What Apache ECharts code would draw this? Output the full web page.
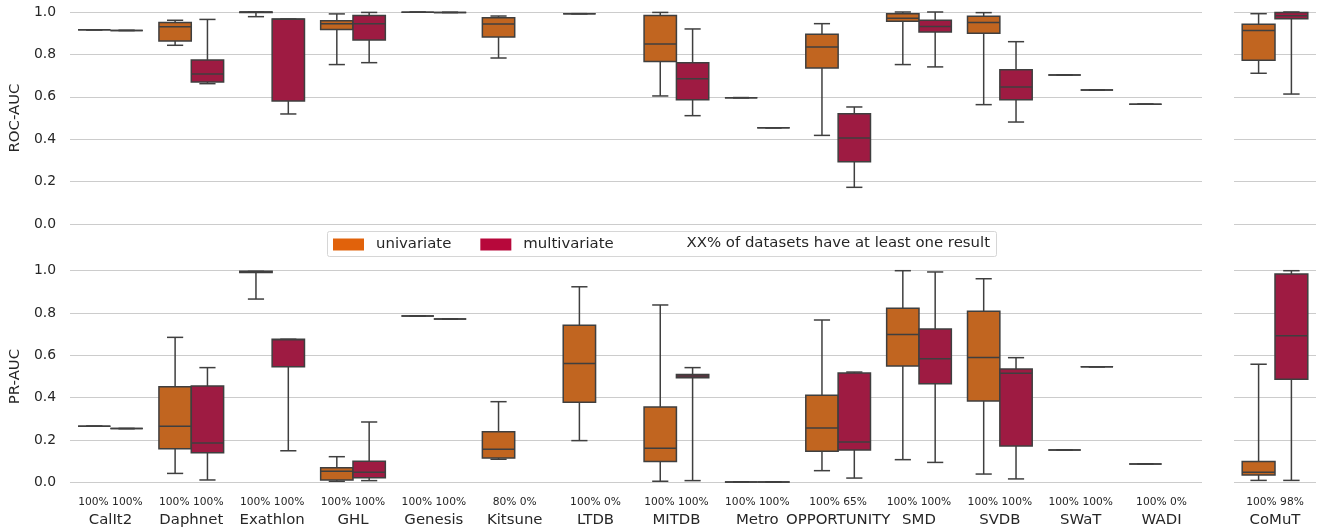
<!DOCTYPE html>
<html>
<head>
<meta charset="utf-8">
<script src="https://cdn.jsdelivr.net/npm/echarts@6/dist/echarts.min.js"></script>
<style>
html,body{margin:0;padding:0;background:#fff;}
#chart{width:1318px;height:529px;}
</style>
</head>
<body>
<div id="chart"></div>
<script>
// ---- data: [min, q1, median, q3, max] per category (null = no result) ----
const categories = ['CalIt2','Daphnet','Exathlon','GHL','Genesis','Kitsune','LTDB','MITDB','Metro','OPPORTUNITY','SMD','SVDB','SWaT','WADI'];
const uniPct   = ['100%','100%','100%','100%','100%','80%','100%','100%','100%','100%','100%','100%','100%','100%'];
const multiPct = ['100%','100%','100%','100%','100%','0%','0%','100%','100%','65%','100%','100%','100%','0%'];

const rocUni = [
  [0.916,0.916,0.916,0.916,0.916],
  [0.843,0.863,0.931,0.950,0.961],
  [0.978,0.998,1.000,1.000,1.000],
  [0.752,0.917,0.945,0.959,0.991],
  [0.999,0.999,0.999,0.999,0.999],
  [0.783,0.882,0.943,0.973,0.981],
  [0.992,0.992,0.992,0.992,0.992],
  [0.604,0.766,0.849,0.984,0.998],
  [0.596,0.596,0.596,0.596,0.596],
  [0.418,0.736,0.835,0.895,0.945],
  [0.752,0.956,0.970,0.992,1.000],
  [0.563,0.900,0.951,0.980,0.997],
  [0.703,0.703,0.703,0.703,0.703],
  [0.565,0.565,0.565,0.565,0.565]
];
const rocMulti = [
  [0.913,0.913,0.913,0.913,0.913],
  [0.662,0.670,0.708,0.774,0.965],
  [0.519,0.580,0.966,0.967,0.967],
  [0.761,0.868,0.945,0.984,0.998],
  [0.998,0.998,0.998,0.998,0.998],
  null,
  null,
  [0.511,0.586,0.685,0.761,0.920],
  [0.454,0.454,0.454,0.454,0.454],
  [0.173,0.294,0.406,0.520,0.552],
  [0.741,0.906,0.932,0.961,1.000],
  [0.481,0.586,0.646,0.728,0.860],
  [0.632,0.632,0.632,0.632,0.632],
  null
];
const prUni = [
  [0.265,0.265,0.265,0.265,0.265],
  [0.042,0.159,0.265,0.452,0.685],
  [0.866,0.992,0.995,0.997,0.997],
  [0.005,0.011,0.052,0.069,0.121],
  [0.786,0.786,0.786,0.786,0.786],
  [0.109,0.115,0.156,0.239,0.381],
  [0.197,0.378,0.562,0.742,0.924],
  [0.005,0.098,0.161,0.356,0.838],
  [0.002,0.002,0.002,0.002,0.002],
  [0.055,0.147,0.257,0.411,0.767],
  [0.107,0.550,0.698,0.822,1.000],
  [0.039,0.384,0.590,0.808,0.962],
  [0.153,0.153,0.153,0.153,0.153],
  [0.087,0.087,0.087,0.087,0.087]
];
const prMulti = [
  [0.254,0.254,0.254,0.254,0.254],
  [0.011,0.140,0.186,0.455,0.542],
  [0.149,0.546,0.674,0.676,0.676],
  [0.008,0.022,0.047,0.099,0.285],
  [0.772,0.772,0.772,0.772,0.772],
  null,
  null,
  [0.008,0.494,0.502,0.510,0.542],
  [0.002,0.002,0.002,0.002,0.002],
  [0.020,0.153,0.190,0.517,0.521],
  [0.094,0.466,0.584,0.724,0.994],
  [0.016,0.172,0.515,0.535,0.589],
  [0.546,0.546,0.546,0.546,0.546],
  null
];

const sideCategories = ['CoMuT'];
const sideUniPct = ['100%'];
const sideMultiPct = ['98%'];
const sideRocUni   = [[0.711,0.772,0.913,0.942,0.992]];
const sideRocMulti = [[0.613,0.968,0.982,0.998,1.000]];
const sidePrUni    = [[0.009,0.035,0.047,0.098,0.558]];
const sidePrMulti  = [[0.009,0.487,0.693,0.984,1.000]];

const yTicks = [0, 0.2, 0.4, 0.6, 0.8, 1.0];

// ---- styles ----
const UNI_LEGEND = '#e1620b', MULTI_LEGEND = '#b7083b';
const UNI_FILL = '#c16520', MULTI_FILL = '#9e1b42';
const EDGE = '#3f3f3f';
const TEXT = '#262626';
const FONT = 'DejaVu Sans';

function toData(arr) {
  const out = [];
  arr.forEach((v, i) => { if (v) out.push([i].concat(v)); });
  return out;
}

function makeRender(sign, fill) {
  return function (params, api) {
    const cat = api.value(0);
    const band = api.size([1, 0])[0];
    const bw = band * 0.4;
    const cx = api.coord([cat, 0])[0] + sign * bw / 2;
    const y = i => api.coord([cat, api.value(i)])[1];
    const ymin = y(1), yq1 = y(2), ymed = y(3), yq3 = y(4), ymax = y(5);
    const cap = bw / 4;
    const ls = { stroke: EDGE, lineWidth: 1.5 };
    return {
      type: 'group',
      children: [
        { type: 'line', shape: { x1: cx, y1: yq1, x2: cx, y2: ymin }, style: ls },
        { type: 'line', shape: { x1: cx, y1: yq3, x2: cx, y2: ymax }, style: ls },
        { type: 'line', shape: { x1: cx - cap, y1: ymin, x2: cx + cap, y2: ymin }, style: ls },
        { type: 'line', shape: { x1: cx - cap, y1: ymax, x2: cx + cap, y2: ymax }, style: ls },
        { type: 'rect', shape: { x: cx - bw / 2, y: yq3, width: bw, height: yq1 - yq3 },
          style: { fill: fill, stroke: EDGE, lineWidth: 1.5 } },
        { type: 'line', shape: { x1: cx - bw / 2, y1: ymed, x2: cx + bw / 2, y2: ymed }, style: ls }
      ]
    };
  };
}

function series(name, sign, fill, legendColor, arr, idx) {
  return {
    type: 'custom', name: name, xAxisIndex: idx, yAxisIndex: idx,
    itemStyle: { color: legendColor },
    renderItem: makeRender(sign, fill),
    encode: { x: 0, y: [1, 2, 3, 4, 5] },
    data: toData(arr),
    clip: false, silent: true
  };
}

const LEFT = 68, MAIN_RIGHT = 1202, SIDE_LEFT = 1234, SIDE_RIGHT = 1316;
const TOP1 = 12, H1 = 212, TOP2 = 270.7, H2 = 211.6;

const grids = [
  { left: LEFT, top: TOP1, width: MAIN_RIGHT - LEFT, height: H1 },
  { left: SIDE_LEFT, top: TOP1, width: SIDE_RIGHT - SIDE_LEFT, height: H1 },
  { left: LEFT, top: TOP2, width: MAIN_RIGHT - LEFT, height: H2 },
  { left: SIDE_LEFT, top: TOP2, width: SIDE_RIGHT - SIDE_LEFT, height: H2 }
];

function xAxis(idx, cats, up, mp, showLabels) {
  return {
    type: 'category', gridIndex: idx, data: cats, boundaryGap: true,
    axisLine: { show: false }, axisTick: { show: false }, splitLine: { show: false },
    axisLabel: {
      show: showLabels, interval: 0, margin: 12.5,
      formatter: (v, i) => '{p|' + up[i] + ' ' + mp[i] + '}\n{n|' + v + '}',
      rich: {
        p: { fontSize: 10.7, lineHeight: 14, color: TEXT, fontFamily: FONT },
        n: { fontSize: 14.9, lineHeight: 22, color: TEXT, fontFamily: FONT }
      }
    }
  };
}

function yAxis(idx, name, showLabels) {
  return {
    type: 'value', gridIndex: idx, min: 0, max: 1, interval: 0.2,
    name: showLabels ? name : '', nameLocation: 'middle', nameGap: 43,
    nameTextStyle: { fontSize: 14.9, color: TEXT, fontFamily: FONT },
    axisLine: { show: false }, axisTick: { show: false },
    splitLine: { show: true, lineStyle: { color: '#cccccc', width: 1.1 } },
    axisLabel: {
      show: showLabels, margin: 14, fontSize: 13.9, color: TEXT, fontFamily: FONT,
      formatter: v => yTicks.some(t => Math.abs(t - v) < 1e-9) ? v.toFixed(1) : ''
    }
  };
}

const option = {
  animation: false,
  backgroundColor: '#ffffff',
  textStyle: { fontFamily: FONT },
  grid: grids,
  xAxis: [
    xAxis(0, categories, uniPct, multiPct, false),
    xAxis(1, sideCategories, sideUniPct, sideMultiPct, false),
    xAxis(2, categories, uniPct, multiPct, true),
    xAxis(3, sideCategories, sideUniPct, sideMultiPct, true)
  ],
  yAxis: [
    yAxis(0, 'ROC-AUC', true),
    yAxis(1, '', false),
    yAxis(2, 'PR-AUC', true),
    yAxis(3, '', false)
  ],
  legend: {
    data: [{ name: 'univariate', icon: 'rect' }, { name: 'multivariate', icon: 'rect' }],
    left: 333, top: 237, padding: 0, itemWidth: 31, itemHeight: 12, itemGap: 29,
    selectedMode: false,
    textStyle: { fontSize: 14.9, color: TEXT, fontFamily: FONT, padding: [0, 0, 0, 7] }
  },
  graphic: [
    { type: 'rect', z: 0, shape: { x: 327.5, y: 231.5, width: 669, height: 25, r: 2 },
      style: { fill: 'rgba(255,255,255,0.8)', stroke: '#d6d6d6', lineWidth: 1 } },
    { type: 'text', z: 10, style: { x: 990, y: 243.5, text: 'XX% of datasets have at least one result',
      align: 'right', verticalAlign: 'middle', fontSize: 14.9, fill: TEXT, fontFamily: FONT } }
  ],
  series: [
    series('univariate', -1, UNI_FILL, UNI_LEGEND, rocUni, 0),
    series('multivariate', 1, MULTI_FILL, MULTI_LEGEND, rocMulti, 0),
    series('univariate', -1, UNI_FILL, UNI_LEGEND, sideRocUni, 1),
    series('multivariate', 1, MULTI_FILL, MULTI_LEGEND, sideRocMulti, 1),
    series('univariate', -1, UNI_FILL, UNI_LEGEND, prUni, 2),
    series('multivariate', 1, MULTI_FILL, MULTI_LEGEND, prMulti, 2),
    series('univariate', -1, UNI_FILL, UNI_LEGEND, sidePrUni, 3),
    series('multivariate', 1, MULTI_FILL, MULTI_LEGEND, sidePrMulti, 3)
  ]
};

const chart = echarts.init(document.getElementById('chart'), null, { renderer: 'canvas' });
chart.setOption(option);
</script>
</body>
</html>
